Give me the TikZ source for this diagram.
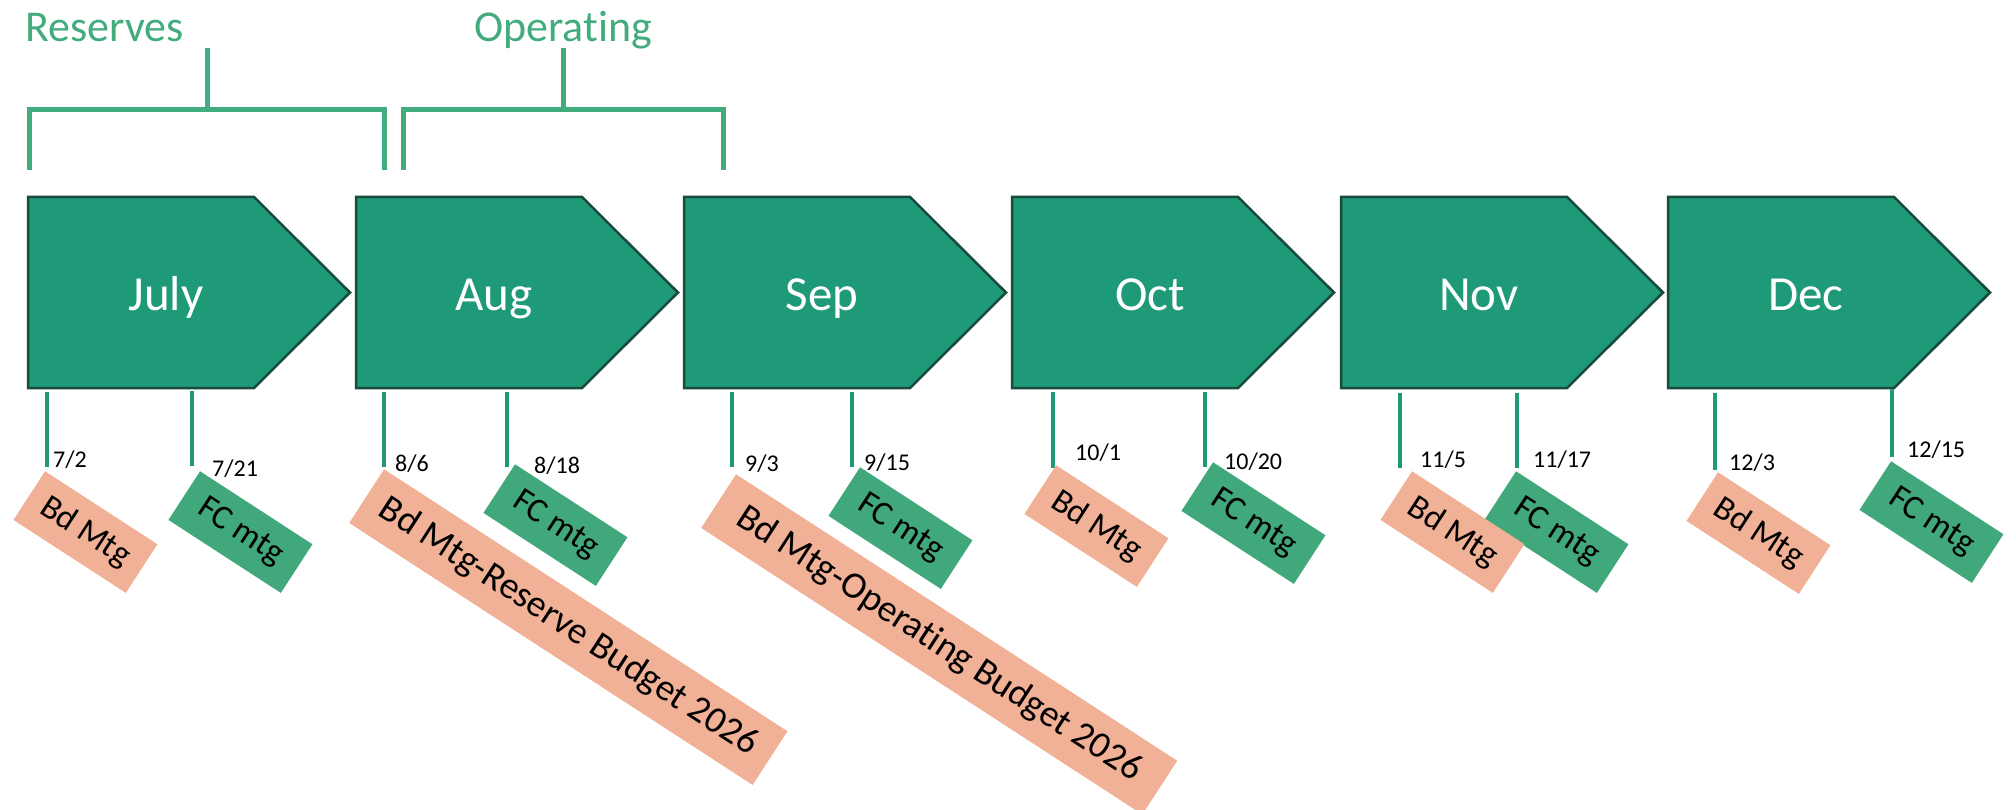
\documentclass[tikz,border=0pt]{standalone}
\usepackage{fontspec}
\setmainfont{Carlito}[Ligatures=NoCommon]
\definecolor{chevgreen}{HTML}{1F9A78}
\definecolor{chevedge}{HTML}{1A4A3C}
\definecolor{hdgreen}{HTML}{43AC7E}
\definecolor{fcgreen}{HTML}{40A87A}
\definecolor{bdsalmon}{HTML}{F1B196}
\tikzset{
        monthbox/.style={fill=chevgreen, draw=chevedge, line width=2.5pt, line join=miter},
        monthtext/.style={text=white, anchor=base, inner sep=0pt, font=\fontsize{49}{57}\selectfont},
        tickline/.style={draw=chevgreen, line width=4.5pt},
        datelabel/.style={anchor=base west, inner sep=0pt, font=\fontsize{24}{28}\selectfont},
        bdmtg/.style={fill=bdsalmon, rotate=-33, anchor=north west, minimum width=134pt, minimum height=58pt, inner sep=0pt, font=\fontsize{34}{40}\selectfont},
        fcmtg/.style={bdmtg, fill=fcgreen},
        budget/.style={bdmtg, minimum height=64pt, font=\fontsize{37.5}{44}\selectfont},
        brace/.style={draw=hdgreen, line width=5pt},
        heading/.style={text=hdgreen, anchor=base west, inner sep=0pt, font=\fontsize{44}{52}\selectfont}
          }
\begin{document}
\begin{tikzpicture}[x=1pt, y=-1pt]
        \useasboundingbox (0,0) rectangle (2016,810);
        \node[heading] (reserves) at (25,42) {Reserves};
        \node[heading] (operating) at (474,42) {Operating};
        \draw[brace] (29,170) -- (29,110) -- (384,110) -- (384,170);
        \draw[brace] (207,110) -- (207,48);
        \draw[brace] (403,170) -- (403,110) -- (723,110) -- (723,170);
        \draw[brace] (563,110) -- (563,48);
        \foreach \x/\m/\name in {28/July/jul, 356/Aug/aug, 684/Sep/sep, 1012/Oct/oct, 1341/Nov/nov, 1668/Dec/dec}{
          \draw[monthbox] (\x,197) -- (\x+226,197) -- (\x+322,292.5) -- (\x+226,388) -- (\x,388) -- cycle;
          \node[monthtext] (\name) at (\x+138,311) {\m};
        }
        \coordinate (d72) at (47,467);
        \coordinate (d721) at (192,466);
        \coordinate (d86) at (384,467);
        \coordinate (d818) at (507,467);
        \coordinate (d93) at (732,467);
        \coordinate (d915) at (852,467);
        \coordinate (d101) at (1053,468);
        \coordinate (d1020) at (1205,467);
        \coordinate (d115) at (1400,468);
        \coordinate (d1117) at (1517,468);
        \coordinate (d123) at (1715,470);
        \coordinate (d1215) at (1892,457);
        \draw[tickline] (d72) -- (47,392);
        \draw[tickline] (d721) -- (192,391);
        \draw[tickline] (d86) -- (384,392);
        \draw[tickline] (d818) -- (507,392);
        \draw[tickline] (d93) -- (732,392);
        \draw[tickline] (d915) -- (852,392);
        \draw[tickline] (d101) -- (1053,392);
        \draw[tickline] (d1020) -- (1205,392);
        \draw[tickline] (d115) -- (1400,393);
        \draw[tickline] (d1117) -- (1517,393);
        \draw[tickline] (d123) -- (1715,393);
        \draw[tickline] (d1215) -- (1892,389);
        \node[datelabel] (l72) at (53,467) {7/2};
        \node[datelabel] (l721) at (212,476) {7/21};
        \node[datelabel] (l86) at (395,471) {8/6};
        \node[datelabel] (l818) at (534,473) {8/18};
        \node[datelabel] (l93) at (745,471) {9/3};
        \node[datelabel] (l915) at (864,470) {9/15};
        \node[datelabel] (l101) at (1075,460) {10/1};
        \node[datelabel] (l1020) at (1224,469) {10/20};
        \node[datelabel] (l115) at (1420,467) {11/5};
        \node[datelabel] (l1117) at (1533,467) {11/17};
        \node[datelabel] (l123) at (1729,470) {12/3};
        \node[datelabel] (l1215) at (1907,457) {12/15};
        \node[bdmtg] (bd72) at (45,471) {Bd Mtg};
        \node[fcmtg] (fc721) at (200,471) {FC mtg};
        \node[budget, minimum width=481pt] (bd86) at (384,469) {Bd Mtg-Reserve Budget 2026};
        \node[fcmtg] (fc818) at (515,464) {FC mtg};
        \node[budget, minimum width=526pt] (bd93) at (736,474) {Bd Mtg-Operating Budget 2026};
        \node[fcmtg] (fc915) at (860,467) {FC mtg};
        \node[bdmtg] (bd101) at (1056,465) {Bd Mtg};
        \node[fcmtg] (fc1020) at (1213,462) {FC mtg};
        \node[fcmtg] (fc1117) at (1516,471) {FC mtg};
        \node[bdmtg] (bd115) at (1412,471) {Bd Mtg};
        \node[bdmtg] (bd123) at (1718,472) {Bd Mtg};
        \node[fcmtg] (fc1215) at (1891,461) {FC mtg};
\end{tikzpicture}
\end{document}
